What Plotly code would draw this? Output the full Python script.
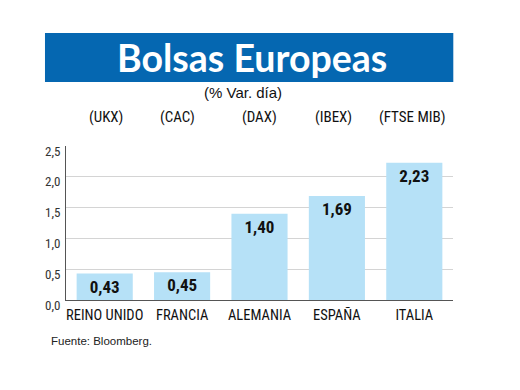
import plotly.graph_objects as go

countries = ["REINO UNIDO", "FRANCIA", "ALEMANIA", "ESPAÑA", "ITALIA"]
indices = ["(UKX)", "(CAC)", "(DAX)", "(IBEX)", "(FTSE MIB)"]
values = [0.43, 0.45, 1.40, 1.69, 2.23]
y_ticks = [0.0, 0.5, 1.0, 1.5, 2.0, 2.5]

W, H = 520, 390
L, R = 66, 452.7
T, B = 146, 300

def px_x(p):
    return (p - L) / (R - L)

def px_y(p):
    return (B - p) / (B - T)

NARROW = "Roboto Condensed, Liberation Sans Narrow, Arial Narrow, Liberation Sans, Arial, sans-serif"

fig = go.Figure(go.Bar(
    x=countries,
    y=values,
    marker=dict(color="#b6e1f7", line=dict(width=0)),
    texttemplate="%{y:.2f}",
    textposition="inside",
    insidetextanchor="end",
    textangle=0,
    textfont=dict(family=NARROW, size=17, color="#111111", weight="bold"),
    constraintext="none",
    cliponaxis=False,
    hoverinfo="skip",
))

shapes = [dict(type="rect", xref="paper", yref="paper",
               x0=px_x(45), x1=px_x(453), y0=px_y(82), y1=px_y(33),
               fillcolor="#0567b1", line=dict(width=0), layer="below")]

annotations = [
    dict(text="Bolsas Europeas", xref="paper", yref="paper", x=px_x(252), y=px_y(57.5),
         xanchor="center", yanchor="middle", showarrow=False,
         font=dict(family="Lato, Open Sans, sans-serif", size=37.5, color="white", weight="bold")),
    dict(text="(% Var. día)", xref="paper", yref="paper", x=px_x(243), y=px_y(92),
         xanchor="center", yanchor="middle", showarrow=False,
         font=dict(family="Liberation Sans, Arial, sans-serif", size=15, color="#111111")),
    dict(text="Fuente: Bloomberg.", xref="paper", yref="paper", x=px_x(49), y=px_y(341),
         xanchor="left", yanchor="middle", showarrow=False,
         font=dict(family="Liberation Sans, Arial, sans-serif", size=11.5, color="#222222")),
]
index_x = [106, 177, 259, 333, 412]
for lab, xc in zip(indices, index_x):
    annotations.append(dict(text=lab, xref="paper", yref="paper", x=px_x(xc), y=px_y(117),
                            xanchor="center", yanchor="middle", showarrow=False,
                            font=dict(family=NARROW, size=15, color="#111111")))

fig.update_layout(
    width=W, height=H,
    margin=dict(l=L, r=W - R, t=T, b=H - B, pad=0, autoexpand=False),
    paper_bgcolor="white", plot_bgcolor="white",
    separators=",.",
    bargap=0.275,
    showlegend=False,
    shapes=shapes,
    annotations=annotations,
    xaxis=dict(showline=True, linecolor="#555555", linewidth=1, showgrid=False,
               ticks="", tickangle=0, automargin=False, ticklabelstandoff=2,
               tickfont=dict(family=NARROW, size=14.5, color="#111111"),
               fixedrange=True),
    yaxis=dict(range=[0, 2.5], tickvals=y_ticks, tickformat=".1f",
               showline=True, linecolor="#555555", linewidth=1,
               showgrid=True, gridcolor="#d4d4d4", gridwidth=1, zeroline=False,
               ticks="", ticklabelshift=5, ticklabelstandoff=2, automargin=False,
               tickfont=dict(family=NARROW, size=13, color="#333333"),
               fixedrange=True),
)

fig.write_html("out.html", config={"displayModeBar": False},
               post_script="document.body.style.margin='0';")
